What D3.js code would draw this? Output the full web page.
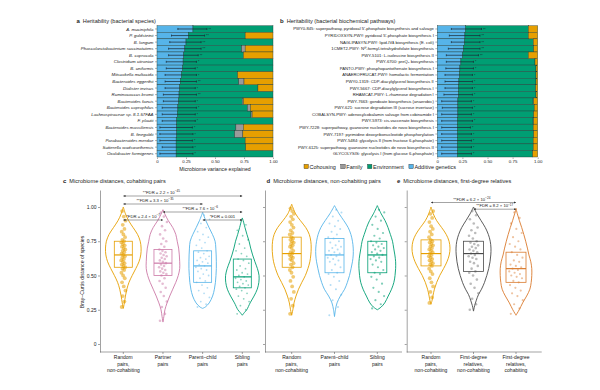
<!DOCTYPE html>
<html><head><meta charset="utf-8">
<script src="https://cdn.jsdelivr.net/npm/d3@7"></script>
<style>body{margin:0;background:#fff}svg{display:block;font-family:"Liberation Sans",Arial,sans-serif}</style>
</head><body><svg id="chart" width="600" height="390"></svg>
<script>
// ===================== DATA =====================
const species = ["A. muciniphila","P. goldsteinii","B. longum","Phascolarctobacterium succinatutens","B. coprocola","Clostridium citroniae","B. uniformis","Mitsuokella multacida","Bacteroides eggerthii","Dialister invisus","Ruminococcus bromii","Bacteroides faecis","Bacteroides coprophilus","Lachnospiraceae sp. 8.1.57FAA","F. plautii","Bacteroides massiliensis","B. finegoldii","Parabacteroides merdae","Sutterella wadsworthensis","Oxalobacter formigenes"];
const speciesGenetics    = [0.31,0.27,0.25,0.24,0.23,0.225,0.22,0.21,0.20,0.195,0.19,0.185,0.18,0.175,0.17,0.17,0.17,0.165,0.165,0.165];
const speciesEnvironment = [0.69,0.49,0.75,0.49,0.515,0.775,0.78,0.485,0.505,0.675,0.81,0.55,0.60,0.635,0.83,0.51,0.50,0.595,0.60,0.835];
const speciesFamily      = [0,0,0,0.03,0,0,0,0,0.045,0,0,0.01,0.025,0.01,0,0.065,0.07,0,0,0];
const speciesCohousing   = [0,0.24,0,0.24,0.255,0,0,0.305,0.25,0.13,0,0.255,0.195,0.18,0,0.255,0.26,0.24,0.235,0];
const speciesCILow  = [0.18,0.125,0.11,0.10,0.10,0.08,0.08,0.07,0.07,0.07,0.055,0.055,0.045,0.045,0.045,0.025,0.025,0.025,0.045,0.025];
const speciesCIHigh = [0.43,0.41,0.38,0.38,0.355,0.34,0.33,0.34,0.34,0.33,0.34,0.33,0.34,0.33,0.33,0.305,0.31,0.305,0.31,0.31];
const speciesStars  = ["**","**","**","**","**","*","*","*","**","*","**","*","*","*","*","*","*","*","*","*"];

const pathways = ["PWY0-845: superpathway, pyridoxal 5′-phosphate biosynthesis and salvage","PYRIDOXSYN-PWY: pyridoxal 5′-phosphate biosynthesis I","NAGLIPASYN-PWY: lipid-IV_A biosynthesis (E. coli)","1CMET2-PWY: N¹⁰-formyl-tetrahydrofolate biosynthesis","PWY-5101: L-isoleucine biosynthesis II","PWY-6700: preQ₀ biosynthesis","PANTO-PWY: phosphopantothenate biosynthesis I","ANAEROFRUCAT-PWY: homolactic fermentation","PWY0-1319: CDP-diacylglycerol biosynthesis II","PWY-5667: CDP-diacylglycerol biosynthesis I","RHAMCAT-PWY: L-rhamnose degradation I","PWY-7663: gondoate biosynthesis (anaerobic)","PWY-621: sucrose degradation III (sucrose invertase)","COBALSYN-PWY: adenosylcobalamin salvage from cobinamide I","PWY-5973: cis-vaccenate biosynthesis","PWY-7228: superpathway, guanosine nucleotides de novo biosynthesis I","PWY-7197: pyrimidine deoxyribonucleotide phosphorylation","PWY-5484: glycolysis II (from fructose 6-phosphate)","PWY-6125: superpathway, guanosine nucleotides de novo biosynthesis II","GLYCOLYSIS: glycolysis I (from glucose 6-phosphate)"];
const pathwayGenetics    = [0.28,0.275,0.27,0.26,0.25,0.235,0.225,0.22,0.215,0.21,0.21,0.205,0.205,0.205,0.20,0.20,0.20,0.20,0.20,0.20];
const pathwayEnvironment = [0.626,0.631,0.686,0.70,0.656,0.738,0.758,0.763,0.768,0.77,0.773,0.749,0.76,0.755,0.754,0.755,0.76,0.755,0.755,0.75];
const pathwayFamily      = [0,0,0,0,0,0,0,0,0,0,0,0.006,0,0,0.006,0,0,0,0,0];
const pathwayCohousing   = [0.094,0.094,0.044,0.04,0.094,0.027,0.017,0.017,0.017,0.02,0.017,0.04,0.035,0.04,0.04,0.045,0.04,0.045,0.045,0.05];
const pathwayCILow  = [0.14,0.12,0.14,0.11,0.09,0.09,0.085,0.077,0.077,0.077,0.066,0.044,0.05,0.044,0.044,0.044,0.044,0.044,0.044,0.044];
const pathwayCIHigh = [0.44,0.425,0.425,0.425,0.41,0.36,0.36,0.35,0.35,0.35,0.35,0.34,0.35,0.34,0.35,0.33,0.34,0.34,0.34,0.34];
const pathwayStars  = ["**","**","**","**","**","*","*","*","*","*","*","*","*","*","*","*","*","*","*","*"];

const varianceComponents = ["Cohousing","Family","Environment","Additive genetics"];
const heritTicks = [0,0.25,0.5,0.75,1];
const distTicks = [0,0.25,0.5,0.75,1];

// panel c
const cGroups = ["Random|pairs,|non-cohabiting","Partner|pairs","Parent–child|pairs","Sibling|pairs"];
const cBoxes = [[0.56,0.65,0.75],[0.50,0.59,0.69],[0.45,0.57,0.68],[0.41,0.49,0.62]];
const cViolins = [
 [[0.26,0],[0.30,0.06],[0.35,0.12],[0.40,0.2],[0.45,0.32],[0.50,0.5],[0.55,0.7],[0.60,0.88],[0.65,0.98],[0.70,1.0],[0.75,0.95],[0.80,0.8],[0.85,0.55],[0.90,0.3],[0.95,0.12],[1.0,0]],
 [[0.16,0],[0.20,0.05],[0.25,0.11],[0.30,0.23],[0.35,0.38],[0.40,0.55],[0.45,0.72],[0.50,0.86],[0.55,0.94],[0.60,0.94],[0.65,0.92],[0.70,0.88],[0.75,0.8],[0.80,0.72],[0.85,0.55],[0.90,0.3],[0.95,0.1],[0.98,0]],
 [[0.26,0],[0.27,0.15],[0.30,0.37],[0.35,0.56],[0.40,0.66],[0.45,0.72],[0.50,0.75],[0.55,0.77],[0.60,0.77],[0.65,0.76],[0.70,0.74],[0.75,0.7],[0.80,0.55],[0.85,0.36],[0.90,0.18],[0.96,0]],
 [[0.21,0],[0.23,0.12],[0.25,0.25],[0.30,0.44],[0.35,0.66],[0.40,0.84],[0.45,0.93],[0.50,0.94],[0.55,0.85],[0.60,0.71],[0.65,0.58],[0.70,0.47],[0.75,0.38],[0.80,0.26],[0.85,0.15],[0.90,0.05],[0.92,0]]
];
const cPoints = [
 [0.27,0.31,0.35,0.39,0.42,0.45,0.48,0.50,0.52,0.54,0.55,0.56,0.57,0.58,0.59,0.60,0.61,0.62,0.63,0.64,0.65,0.66,0.67,0.68,0.69,0.70,0.71,0.72,0.73,0.74,0.75,0.76,0.78,0.80,0.82,0.84,0.87,0.90,0.93,0.97],
 [0.17,0.22,0.27,0.31,0.35,0.38,0.41,0.44,0.46,0.48,0.50,0.51,0.52,0.53,0.54,0.55,0.56,0.57,0.58,0.59,0.60,0.61,0.62,0.63,0.64,0.65,0.66,0.67,0.68,0.69,0.71,0.73,0.75,0.77,0.80,0.83,0.86,0.89,0.93,0.96],
 [0.27,0.29,0.31,0.34,0.37,0.39,0.41,0.43,0.45,0.46,0.48,0.50,0.51,0.53,0.54,0.55,0.56,0.57,0.58,0.59,0.60,0.61,0.62,0.63,0.64,0.66,0.67,0.68,0.70,0.72,0.74,0.76,0.78,0.80,0.82,0.85,0.88,0.91,0.94],
 [0.22,0.25,0.28,0.31,0.33,0.35,0.37,0.39,0.40,0.41,0.42,0.43,0.44,0.45,0.46,0.47,0.48,0.49,0.50,0.51,0.52,0.54,0.55,0.57,0.59,0.61,0.62,0.64,0.66,0.68,0.70,0.73,0.76,0.79,0.83,0.87]
];
const cTests = [
 {from:0,to:3,label:"**FDR = 2.2 × 10^−45"},
 {from:0,to:2,label:"**FDR = 3.3 × 10^−35"},
 {from:1,to:3,label:"**FDR = 7.6 × 10^−6"},
 {from:0,to:1,label:"*FDR = 2.4 × 10^−7"},
 {from:2,to:3,label:"*FDR = 0.001"}
];

// panel d
const dGroups = ["Random|pairs,|non-cohabiting","Parent–child|pairs","Sibling|pairs"];
const dBoxes = [[0.56,0.66,0.78],[0.52,0.65,0.77],[0.52,0.65,0.75]];
const dViolins = [
 [[0.21,0],[0.25,0.06],[0.30,0.12],[0.35,0.22],[0.40,0.35],[0.45,0.52],[0.50,0.7],[0.55,0.83],[0.60,0.93],[0.65,0.98],[0.70,1.0],[0.75,0.98],[0.80,0.9],[0.85,0.72],[0.90,0.45],[0.95,0.2],[1.02,0]],
 [[0.20,0],[0.25,0.05],[0.30,0.13],[0.35,0.3],[0.40,0.52],[0.45,0.66],[0.50,0.77],[0.55,0.85],[0.60,0.92],[0.65,0.96],[0.70,0.96],[0.75,0.92],[0.80,0.84],[0.85,0.7],[0.90,0.48],[0.95,0.24],[1.01,0]],
 [[0.25,0],[0.27,0.2],[0.30,0.38],[0.35,0.56],[0.40,0.73],[0.45,0.85],[0.50,0.91],[0.55,0.94],[0.60,0.94],[0.65,0.9],[0.70,0.84],[0.75,0.78],[0.80,0.67],[0.85,0.55],[0.90,0.4],[0.95,0.2],[1.01,0]]
];
const dPoints = [
 [0.22,0.28,0.33,0.38,0.42,0.46,0.49,0.52,0.54,0.56,0.58,0.59,0.61,0.62,0.63,0.64,0.65,0.66,0.67,0.68,0.70,0.71,0.72,0.73,0.74,0.75,0.76,0.77,0.78,0.80,0.81,0.83,0.85,0.87,0.89,0.91,0.93,0.95,0.97,0.99],
 [0.21,0.27,0.32,0.36,0.40,0.43,0.46,0.49,0.51,0.52,0.54,0.56,0.58,0.60,0.61,0.62,0.63,0.64,0.65,0.66,0.67,0.68,0.69,0.70,0.71,0.72,0.74,0.75,0.77,0.78,0.80,0.82,0.84,0.86,0.88,0.90,0.93,0.96,0.98],
 [0.26,0.29,0.32,0.35,0.38,0.41,0.44,0.47,0.49,0.51,0.52,0.54,0.56,0.58,0.60,0.61,0.62,0.63,0.64,0.65,0.66,0.67,0.68,0.69,0.70,0.71,0.72,0.73,0.74,0.75,0.77,0.79,0.81,0.84,0.87,0.90,0.93,0.96,0.98]
];

// panel e
const eGroups = ["Random|pairs,|non-cohabiting","First-degree|relatives,|non-cohabiting","First-degree|relatives,|cohabiting"];
const eBoxes = [[0.57,0.66,0.76],[0.53,0.66,0.75],[0.45,0.55,0.67]];
const eViolins = [
 [[0.29,0],[0.32,0.06],[0.35,0.1],[0.40,0.18],[0.45,0.3],[0.50,0.46],[0.55,0.66],[0.60,0.84],[0.65,0.96],[0.70,1.0],[0.75,0.95],[0.80,0.8],[0.85,0.56],[0.90,0.3],[0.95,0.12],[1.0,0]],
 [[0.24,0],[0.28,0.06],[0.32,0.15],[0.36,0.26],[0.40,0.42],[0.45,0.58],[0.50,0.7],[0.55,0.8],[0.60,0.87],[0.65,0.91],[0.70,0.92],[0.75,0.88],[0.80,0.78],[0.85,0.62],[0.90,0.4],[0.95,0.18],[1.0,0]],
 [[0.21,0],[0.25,0.17],[0.30,0.35],[0.35,0.56],[0.40,0.73],[0.45,0.8],[0.50,0.83],[0.55,0.83],[0.60,0.78],[0.65,0.68],[0.70,0.6],[0.75,0.51],[0.80,0.41],[0.85,0.3],[0.90,0.18],[0.95,0.07],[0.99,0]]
];
const ePoints = [
 [0.30,0.34,0.38,0.42,0.45,0.48,0.51,0.53,0.55,0.57,0.58,0.59,0.60,0.61,0.62,0.63,0.64,0.65,0.66,0.67,0.68,0.69,0.70,0.71,0.72,0.73,0.74,0.75,0.76,0.78,0.80,0.82,0.84,0.86,0.89,0.92,0.95,0.97],
 [0.25,0.29,0.33,0.37,0.41,0.44,0.47,0.50,0.52,0.53,0.55,0.57,0.59,0.60,0.62,0.63,0.64,0.65,0.66,0.67,0.68,0.69,0.70,0.71,0.72,0.73,0.74,0.75,0.77,0.79,0.81,0.83,0.85,0.88,0.91,0.94,0.97],
 [0.22,0.26,0.29,0.32,0.35,0.37,0.39,0.41,0.43,0.45,0.46,0.48,0.49,0.50,0.51,0.52,0.53,0.54,0.55,0.56,0.57,0.58,0.60,0.61,0.63,0.65,0.67,0.69,0.71,0.73,0.75,0.78,0.81,0.84,0.88,0.92,0.96]
];
const eTests = [
 {from:0,to:2,label:"**FDR = 6.2 × 10^−24"},
 {from:1,to:2,label:"**FDR = 8.2 × 10^−17"}
];

// ===================== STYLE =====================
const C_BLUE="#56B4E9", C_GREEN="#009E73", C_GRAY="#9a9a9a", C_GOLD="#E69F00";
const C_PINK="#CC79A7", C_GRAYV="#4a4a4a", C_ORANGE="#DA7B2E";
const TXT="#222";
const svg = d3.select("#chart");
svg.append("rect").attr("width",600).attr("height",390).attr("fill","#fff");

function title(x,y,letter,text){
  const t=svg.append("text").attr("x",x).attr("y",y).attr("font-size",5.6).attr("fill",TXT);
  t.append("tspan").attr("font-weight","bold").attr("font-size",6).text(letter);
  t.append("tspan").attr("dx",3).text(text);
}

// ===================== HERITABILITY PANELS =====================
function drawHerit(o){
  const x=d3.scaleLinear().domain([0,1]).range([o.x0,o.x1]);
  const y=d3.scaleBand().domain(d3.range(o.labels.length)).range([25.7,157]);
  const rows=o.labels.map((l,i)=>({i,g:o.g[i],e:o.e[i],f:o.f[i],c:o.c[i]}));
  const keys=["g","e","f","c"], col={g:C_BLUE,e:C_GREEN,f:C_GRAY,c:C_GOLD};
  const series=d3.stack().keys(keys)(rows);
  const gb=svg.append("g");
  series.forEach(s=>{
    gb.selectAll(null).data(s.filter(d=>d[1]-d[0]>0)).join("rect")
      .attr("x",d=>x(d[0])).attr("width",d=>x(d[1])-x(d[0]))
      .attr("y",d=>y(d.data.i)).attr("height",y.bandwidth())
      .attr("fill",col[s.key]).attr("stroke","#1f3a35").attr("stroke-width",0.4);
  });
  const ge=svg.append("g").attr("stroke","#1b2530").attr("stroke-width",0.7);
  o.labels.forEach((l,i)=>{
    const cy=y(i)+y.bandwidth()/2;
    ge.append("line").attr("x1",x(o.lo[i])).attr("x2",x(o.hi[i])).attr("y1",cy).attr("y2",cy);
    ge.append("line").attr("x1",x(o.lo[i])).attr("x2",x(o.lo[i])).attr("y1",cy-1).attr("y2",cy+1);
    ge.append("line").attr("x1",x(o.hi[i])).attr("x2",x(o.hi[i])).attr("y1",cy-1).attr("y2",cy+1);
    svg.append("text").attr("x",x(o.hi[i])+1.5).attr("y",cy+1.6).attr("font-size",3.6).attr("fill","#1b2530").text(o.stars[i]);
  });
  const ya=svg.append("g").attr("transform",`translate(${o.x0},0)`)
    .call(d3.axisLeft(y).tickSize(2).tickPadding(1.5).tickFormat(i=>o.labels[i]));
  ya.attr("font-family",null).attr("font-size",null);
  ya.select(".domain").remove();
  ya.selectAll("line").attr("stroke","#333").attr("stroke-width",0.4);
  ya.selectAll("text").attr("font-size",o.fs).attr("fill",TXT).attr("font-style",o.italic?"italic":null)
    .attr("dy","0.35em")
    .each(function(){
      const s=d3.select(this), t=s.text();
      if(t.includes("_A")){
        const [a,b]=t.split("_A"); s.text(a);
        s.append("tspan").attr("font-size",o.fs*0.7).attr("dy",0.8).text("A");
        s.append("tspan").attr("dy",-0.8).text(b);
      }
    });
  const xa=svg.append("g").attr("transform","translate(0,157.5)")
    .call(d3.axisBottom(x).tickValues(heritTicks).tickSize(1.5).tickPadding(1.2).tickFormat(d=>d===0?"0":d3.format(".2f")(d)));
  xa.attr("font-family",null).attr("font-size",null);
  xa.select(".domain").remove();
  xa.selectAll("line").attr("stroke","#333").attr("stroke-width",0.4);
  xa.selectAll("text").attr("font-size",4.4).attr("fill",TXT);
}

title(76.5,22.5,"a","Heritability (bacterial species)");
drawHerit({x0:157,x1:273,labels:species,g:speciesGenetics,e:speciesEnvironment,f:speciesFamily,c:speciesCohousing,lo:speciesCILow,hi:speciesCIHigh,stars:speciesStars,italic:true,fs:4.4});
svg.append("text").attr("x",215).attr("y",171).attr("text-anchor","middle").attr("font-size",5.2).attr("fill",TXT).text("Microbiome variance explained");

title(280,22.5,"b","Heritability (bacterial biochemical pathways)");
drawHerit({x0:437.3,x1:537.7,labels:pathways,g:pathwayGenetics,e:pathwayEnvironment,f:pathwayFamily,c:pathwayCohousing,lo:pathwayCILow,hi:pathwayCIHigh,stars:pathwayStars,italic:false,fs:4.2});

// legend
(function(){
  const colMap={"Cohousing":C_GOLD,"Family":C_GRAY,"Environment":C_GREEN,"Additive genetics":C_BLUE};
  let lx=304; const ly=168.5;
  varianceComponents.forEach(k=>{
    svg.append("rect").attr("x",lx).attr("y",ly-4.2).attr("width",4.4).attr("height",4.4)
      .attr("fill",colMap[k]).attr("stroke","#333").attr("stroke-width",0.4);
    const t=svg.append("text").attr("x",lx+5.5).attr("y",ly).attr("font-size",5.5).attr("fill",TXT).text(k);
    lx+=5.5+t.node().getComputedTextLength()+5;
  });
})();

// ===================== VIOLIN PANELS =====================
const yD=d3.scaleLinear().domain([-0.0584,1.124]).range([352,190]);
function jitter(i,w){ return (((i*0.6180339887+0.13)%1)-0.5)*2*w; }

function drawViolins(o){
  const x=d3.scalePoint().domain(d3.range(o.groups.length)).range([o.c0,o.c1]);
  const ya=svg.append("g").attr("transform",`translate(${o.ax},0)`)
    .call(d3.axisLeft(yD).tickValues(distTicks).tickSize(2).tickSizeOuter(0).tickPadding(1.5)
      .tickFormat(o.tickLabels?(d=>d===0?"0":d3.format(".2f")(d)):""));
  ya.attr("font-family",null).attr("font-size",null);
  ya.selectAll("line,path").attr("stroke","#444").attr("stroke-width",0.5);
  ya.selectAll("text").attr("font-size",5).attr("fill",TXT);
  svg.append("line").attr("x1",o.ax).attr("x2",o.axEnd).attr("y1",352).attr("y2",352).attr("stroke","#444").attr("stroke-width",0.5);
  o.groups.forEach((g,i)=>{
    const cx=x(i);
    svg.append("line").attr("x1",cx).attr("x2",cx).attr("y1",352).attr("y2",354).attr("stroke","#444").attr("stroke-width",0.5);
    const t=svg.append("text").attr("x",cx).attr("y",359).attr("text-anchor","middle").attr("font-size",5).attr("fill",TXT);
    g.split("|").forEach((line,j)=>t.append("tspan").attr("x",cx).attr("dy",j?6.6:0).text(line));
  });
  o.violins.forEach((prof,i)=>{
    const cx=x(i), col=o.colors[i];
    const area=d3.area().curve(d3.curveCatmullRom.alpha(0.5))
      .y(d=>yD(d[0])).x0(d=>cx-d[1]*o.k).x1(d=>cx+d[1]*o.k);
    svg.append("path").attr("d",area(prof)).attr("fill","none").attr("stroke",col).attr("stroke-width",0.9);
    svg.append("g").selectAll("circle").data(o.points[i]).join("circle")
      .attr("cx",(d,j)=>cx+jitter(j,o.jw[i])).attr("cy",d=>yD(d))
      .attr("r",o.pr[i]).attr("fill",o.pcol?o.pcol[i]:col).attr("fill-opacity",o.po[i]);
    const [q1,md,q3]=o.boxes[i], bw=o.bw;
    svg.append("rect").attr("x",cx-bw/2).attr("width",bw).attr("y",yD(q3)).attr("height",yD(q1)-yD(q3))
      .attr("fill","none").attr("stroke",col).attr("stroke-width",0.8);
    svg.append("line").attr("x1",cx-bw/2).attr("x2",cx+bw/2).attr("y1",yD(md)).attr("y2",yD(md))
      .attr("stroke",col).attr("stroke-width",1.2);
  });
  if(o.tests){
    o.tests.forEach((t,i)=>{
      const ly=o.annY0+o.levels[i]*o.annDy, xa=x(t.from), xb=x(t.to);
      svg.append("line").attr("x1",xa).attr("x2",xb).attr("y1",ly).attr("y2",ly)
        .attr("stroke","#333").attr("stroke-width",0.45)
        .attr("marker-start","url(#arr)").attr("marker-end","url(#arr)");
      const lx=xa+(xb-xa)*o.labelFrac[i];
      const tx=svg.append("text").attr("x",lx).attr("y",ly-2).attr("text-anchor","middle").attr("font-size",4.2).attr("fill",TXT);
      const parts=t.label.split("^");
      tx.append("tspan").text(parts[0]);
      if(parts[1]) tx.append("tspan").attr("font-size",3.1).attr("dy",-1.6).text(parts[1]);
    });
  }
}

svg.append("defs").append("marker").attr("id","arr").attr("viewBox","0 0 4 4").attr("refX",4).attr("refY",2)
  .attr("markerWidth",2.2).attr("markerHeight",2.2).attr("markerUnits","userSpaceOnUse").attr("orient","auto-start-reverse")
  .append("path").attr("d","M0,0L4,2L0,4z").attr("fill","#333");

title(63,182.5,"c","Microbiome distances, cohabiting pairs");
title(266.5,182.5,"d","Microbiome distances, non-cohabiting pairs");
title(397,182.5,"e","Microbiome distances, first-degree relatives");

svg.append("text").attr("transform","translate(83.5,272) rotate(-90)").attr("text-anchor","middle")
  .attr("font-size",5.2).attr("fill",TXT).text("Bray–Curtis distance of species");

drawViolins({groups:cGroups,violins:cViolins,points:cPoints,boxes:cBoxes,
  colors:[C_GOLD,C_PINK,C_BLUE,C_GREEN],ax:100,axEnd:260,c0:123.3,c1:242.3,k:17.8,bw:18,
  jw:[2.2,4,7,7],pr:[1.9,1.3,0.9,0.9],po:[0.55,0.5,0.45,0.45],tickLabels:true,
  tests:cTests,levels:[0,1,2,3,3],labelFrac:[0.32,0.4,0.47,0.5,0.5],annY0:196,annDy:8});

drawViolins({groups:dGroups,violins:dViolins,points:dPoints,boxes:dBoxes,
  colors:[C_GOLD,C_BLUE,C_GREEN],ax:265,axEnd:402,c0:291.7,c1:377.3,k:19.5,bw:19,
  jw:[2.2,7,7],pr:[1.9,1,1.1],po:[0.55,0.45,0.5],tickLabels:false});

drawViolins({groups:eGroups,violins:eViolins,points:ePoints,boxes:eBoxes,
  colors:[C_GOLD,C_GRAYV,C_ORANGE],pcol:[C_GOLD,"#777",C_ORANGE],ax:406.7,axEnd:541.7,c0:431,c1:516,k:19,bw:20,
  jw:[2.2,5,7],pr:[1.9,1.3,1.1],po:[0.55,0.5,0.45],tickLabels:false,
  tests:eTests,levels:[0,1],labelFrac:[0.48,0.5],annY0:202.5,annDy:6.7});
</script></body></html>
